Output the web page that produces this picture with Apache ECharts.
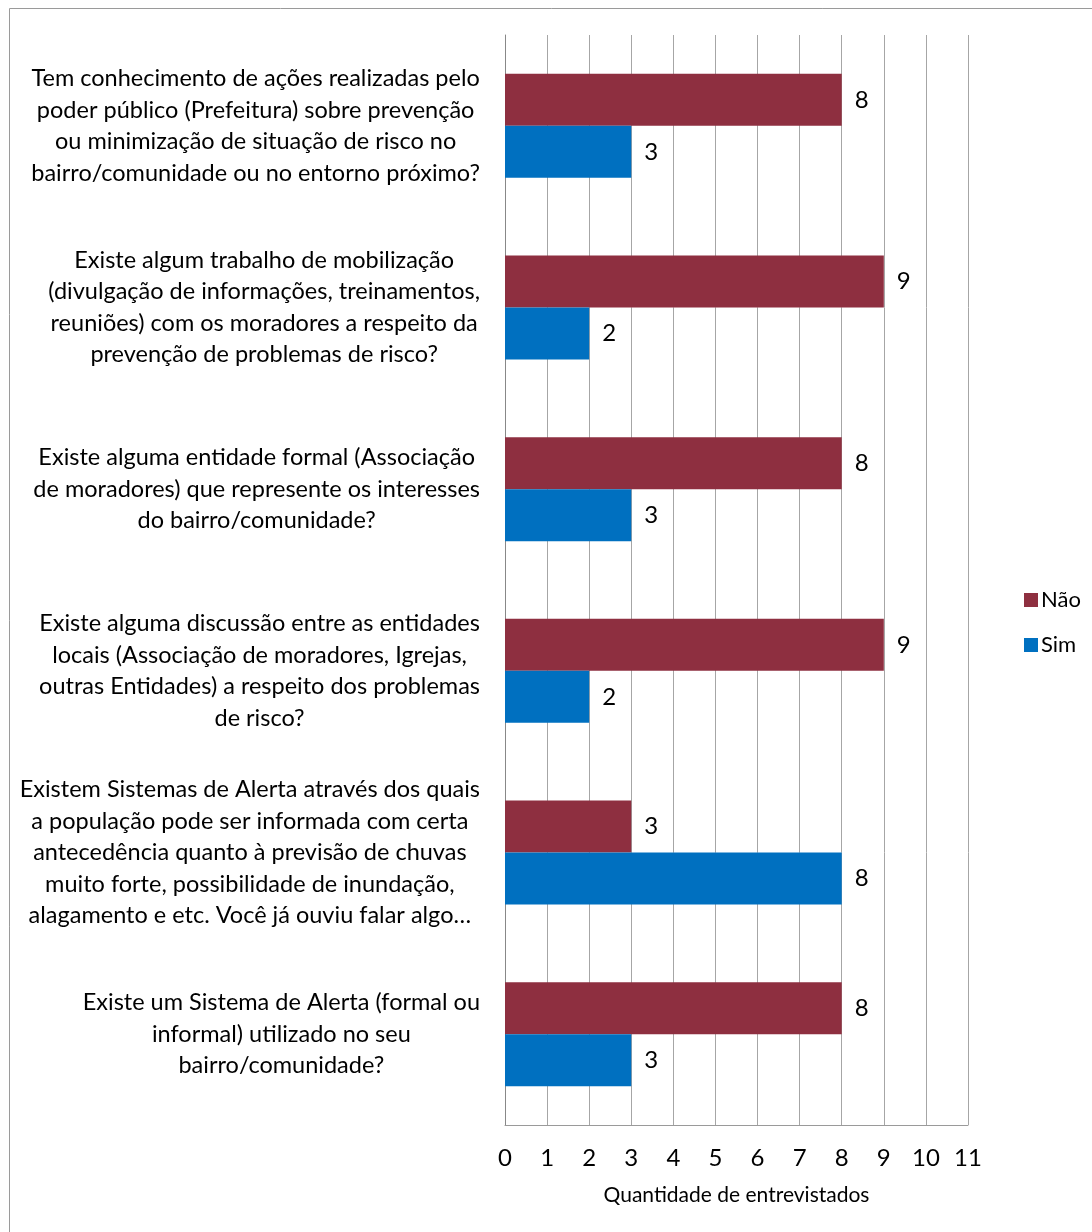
<!DOCTYPE html>
<html>
<head>
<meta charset="utf-8">
<script src="https://cdn.jsdelivr.net/npm/echarts@6/dist/echarts.min.js"></script>
<style>
html,body{margin:0;padding:0;background:#fff;}
#chart{width:1092px;height:1232px;}
</style>
</head>
<body>
<div id="chart"></div>
<script>
const categories = [
  "Tem conhecimento de ações realizadas pelo\npoder público (Prefeitura) sobre prevenção\nou minimização de situação de risco no\nbairro/comunidade ou no entorno próximo?",
  "Existe algum trabalho de mobilização\n(divulgação de informações, treinamentos,\nreuniões) com os moradores a respeito da\nprevenção de problemas de risco?",
  "Existe alguma entidade formal (Associação\nde moradores) que represente os interesses\ndo bairro/comunidade?",
  "Existe alguma discussão entre as entidades\nlocais (Associação de moradores, Igrejas,\noutras Entidades) a respeito dos problemas\nde risco?",
  "Existem Sistemas de Alerta através dos quais\na população pode ser informada com certa\nantecedência quanto à previsão de chuvas\nmuito forte, possibilidade de inundação,\nalagamento e etc. Você já ouviu falar algo…",
  "Existe um Sistema de Alerta (formal ou\ninformal) utilizado no seu\nbairro/comunidade?"
];
const naoValues = [8, 9, 8, 9, 3, 8];
const simValues = [3, 2, 3, 2, 8, 3];
const xTicks = [0,1,2,3,4,5,6,7,8,9,10,11];

const FONT = "Lato";
const chart = echarts.init(document.getElementById('chart'), null, {renderer:'canvas'});
chart.setOption({
  animation: false,
  backgroundColor: '#fff',
  textStyle: {fontFamily: FONT},
  graphic: [{
    type: 'rect', shape: {x: 9.5, y: 8.5, width: 1100, height: 1240},
    style: {fill: 'none', stroke: '#9a9a9a', lineWidth: 1}, silent: true
  }],
  legend: {
    orient: 'vertical', left: 1019, top: 584, itemWidth: 14, itemHeight: 14, itemGap: 23,
    icon: 'rect', textStyle: {fontSize: 22, color: '#000', fontFamily: FONT, padding: [0,0,0,-2]},
    data: ['Não', 'Sim']
  },
  grid: {left: 505, right: 124, top: 35, bottom: 107, containLabel: false},
  xAxis: {
    type: 'value', min: 0, max: 11, interval: 1,
    name: 'Quantidade de entrevistados', nameLocation: 'middle', nameGap: 60,
    nameTextStyle: {fontSize: 21, color: '#000', fontFamily: FONT},
    axisLine: {show: true, lineStyle: {color: '#9a9a9a', width: 1}},
    axisTick: {show: false},
    axisLabel: {fontSize: 24, color: '#000', margin: 21, fontFamily: FONT,
      formatter: v => String(xTicks[v] ?? v)},
    splitLine: {show: true, lineStyle: {color: '#a6a6a6', width: 1}}
  },
  yAxis: {
    type: 'category', inverse: true, data: categories,
    axisLine: {show: true, lineStyle: {color: '#888', width: 1}},
    axisTick: {show: false},
    axisLabel: {
      margin: 25, formatter: v => '{a|' + v.split('\n').join('}\n{a|') + '}',
      rich: {a: {fontSize: 23.5, lineHeight: 31.5, color: '#000', align: 'center', fontFamily: FONT}}
    }
  },
  series: [
    {name: 'Não', type: 'bar', data: naoValues, barWidth: 52, barGap: '0%',
     itemStyle: {color: '#8E2F40'},
     label: {show: true, position: 'right', distance: 13, fontSize: 24, color: '#000', fontFamily: FONT}},
    {name: 'Sim', type: 'bar', data: simValues, barWidth: 52, barGap: '0%',
     itemStyle: {color: '#0070C0'},
     label: {show: true, position: 'right', distance: 13, fontSize: 24, color: '#000', fontFamily: FONT}}
  ]
});
</script>
</body>
</html>
